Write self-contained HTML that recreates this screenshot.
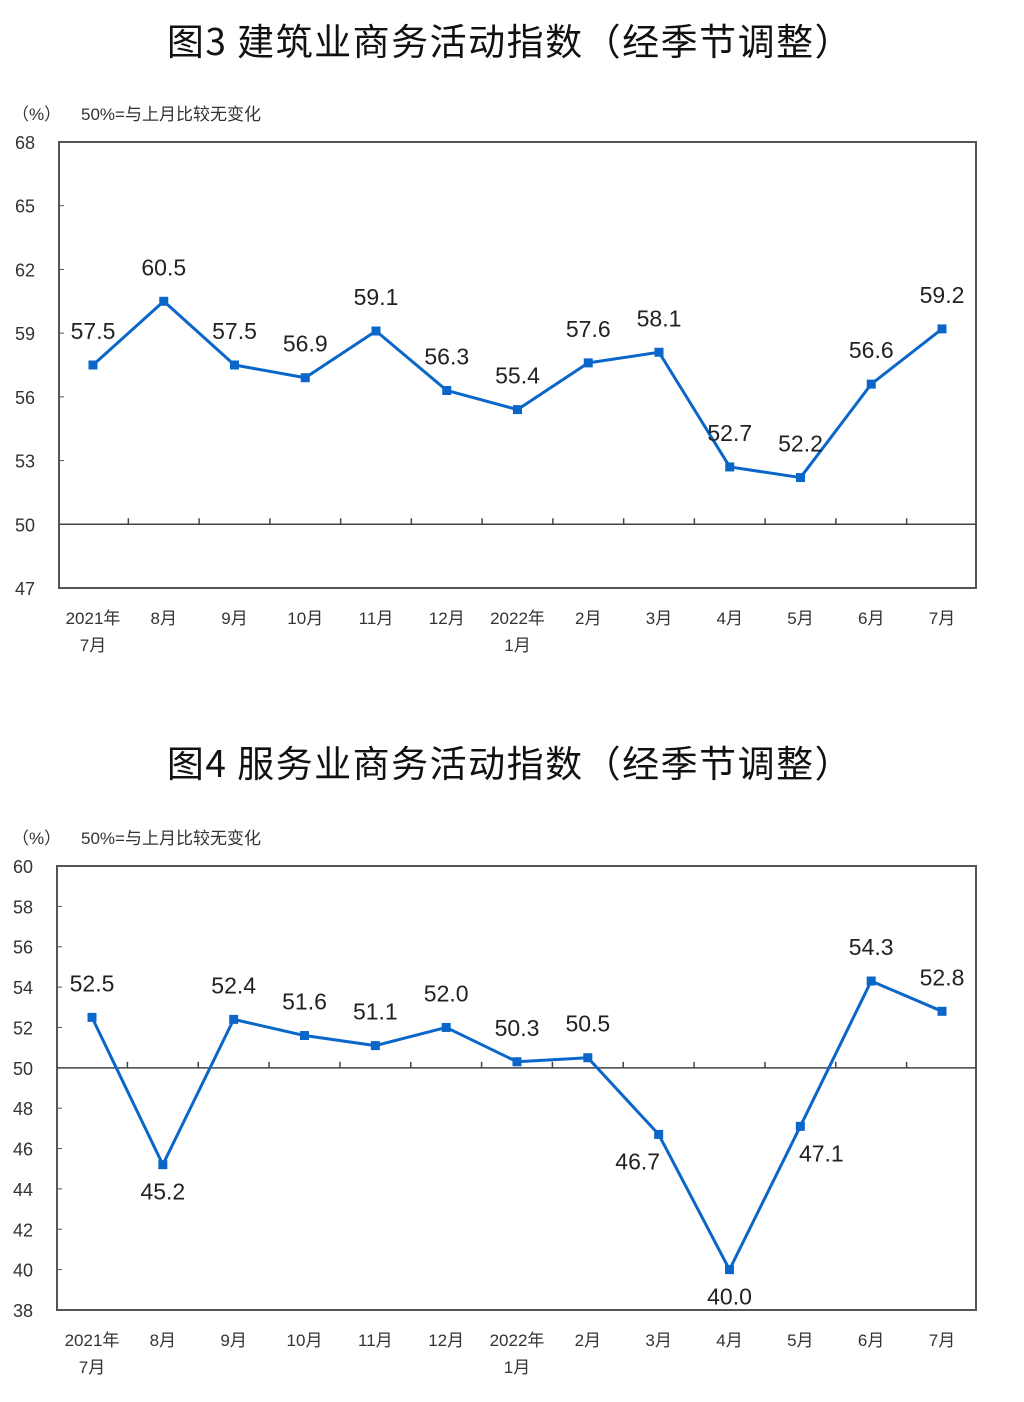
<!DOCTYPE html>
<html><head><meta charset="utf-8">
<style>
body{margin:0;background:#fff;width:1024px;height:1402px;overflow:hidden;font-family:"Liberation Sans","Noto Sans CJK SC",sans-serif;}
svg{position:absolute;left:0;top:0}
</style></head>
<body>
<svg id="c" width="1024" height="1402" xmlns="http://www.w3.org/2000/svg"></svg>
<script>
const categories = ["2021年|7月","8月","9月","10月","11月","12月","2022年|1月","2月","3月","4月","5月","6月","7月"];
const constructionValues = [57.5,60.5,57.5,56.9,59.1,56.3,55.4,57.6,58.1,52.7,52.2,56.6,59.2];
const serviceValues = [52.5,45.2,52.4,51.6,51.1,52.0,50.3,50.5,46.7,40.0,47.1,54.3,52.8];
const constructionTicks = [47,50,53,56,59,62,65,68];
const serviceTicks = [38,40,42,44,46,48,50,52,54,56,58,60];
const titles = ["图3  建筑业商务活动指数（经季节调整）","图4  服务业商务活动指数（经季节调整）"];

const svg = document.getElementById('c');
const NS = "http://www.w3.org/2000/svg";
function mk(tag, attrs, parent){
  const e = document.createElementNS(NS, tag);
  for (const k in attrs) e.setAttribute(k, attrs[k]);
  (parent||svg).appendChild(e);
  return e;
}

function drawChart(cfg, values, ticks, title, name){
  const g = mk('g', {});
  
  
  const ymin = ticks[0], ymax = ticks[ticks.length-1];
  const yS = v => cfg.bottom - (v - ymin) / (ymax - ymin) * (cfg.bottom - cfg.top);
  const n = categories.length;
  const xS = i => cfg.x0 + i * (cfg.x1 - cfg.x0) / (n - 1);
  const step = (cfg.x1 - cfg.x0) / (n - 1);

  const t = mk('text', {x:510, y:cfg.titleY, 'text-anchor':'middle', 'font-size':37, 'letter-spacing':1.5, fill:'#111', 'font-family':'"Noto Sans CJK SC",sans-serif'}, g);
  t.textContent = title;
  
  

  const u = mk('text', {x:12, y:cfg.top-22, 'font-size':17, fill:'#333'}, g);
  u.textContent = '（%）';
  
  
  const note = mk('text', {x:81, y:cfg.top-22, 'font-size':17, fill:'#333'}, g);
  note.textContent = '50%=与上月比较无变化';
  
  

  const box = mk('rect', {x:cfg.left, y:cfg.top, width:cfg.right-cfg.left, height:cfg.bottom-cfg.top, fill:'none', stroke:'#555', 'stroke-width':2}, g);
  
  

  ticks.forEach(v => {
    const y = yS(v);
    const lb = mk('text', {x:cfg.left-34, y:y+7, 'text-anchor':'middle', 'font-size':18, fill:'#333'}, g);
    lb.textContent = v;
    
    
    const tk = mk('line', {x1:cfg.left, x2:cfg.left+5, y1:y, y2:y, stroke:'#555', 'stroke-width':1}, g);
    
    
  });

  const y50 = yS(50);
  const base = mk('line', {x1:cfg.left, x2:cfg.right, y1:y50, y2:y50, stroke:'#444', 'stroke-width':1.5}, g);
  
  
  for (let i = 0; i < n - 1; i++){
    const tx = xS(i) + step/2;
    const tk = mk('line', {x1:tx, x2:tx, y1:y50-6, y2:y50, stroke:'#444', 'stroke-width':1.5}, g);
    
    
  }

  categories.forEach((c, i) => {
    const parts = c.split('|');
    parts.forEach((p, k) => {
      const lb = mk('text', {x:xS(i), y:cfg.bottom+36+k*27, 'text-anchor':'middle', 'font-size':17, fill:'#333'}, g);
      lb.textContent = p;
      
      
    });
  });

  const pts = values.map((v, i) => xS(i) + ',' + yS(v)).join(' ');
  const line = mk('polyline', {points:pts, fill:'none', stroke:'#0a66c8', 'stroke-width':3, 'stroke-linejoin':'round'}, g);
  
  

  values.forEach((v, i) => {
    const x = xS(i), y = yS(v);
    const m = mk('rect', {x:x-4.5, y:y-4.5, width:9, height:9, fill:'#0a66c8'}, g);
    
    
    const below = v < 50;
    let dx = 0;
    if (below) {
      const prev = i > 0 ? values[i-1] : Infinity;
      const next = i < n-1 ? values[i+1] : Infinity;
      if (prev > v && next < v) dx = -21;
      else if (prev < v && next > v) dx = 21;
    }
    const lb = mk('text', {x:x+dx, y:below ? y+35 : y-26, 'text-anchor':'middle', 'font-size':23, fill:'#222'}, g);
    lb.textContent = v.toFixed(1);
    
    
  });
}

drawChart({titleY:55, left:59, right:976, top:142, bottom:588, x0:93, x1:942}, constructionValues, constructionTicks, titles[0], 'construction-chart');
drawChart({titleY:777, left:57, right:976, top:866, bottom:1310, x0:92, x1:942}, serviceValues, serviceTicks, titles[1], 'services-chart');
</script>
</body></html>
